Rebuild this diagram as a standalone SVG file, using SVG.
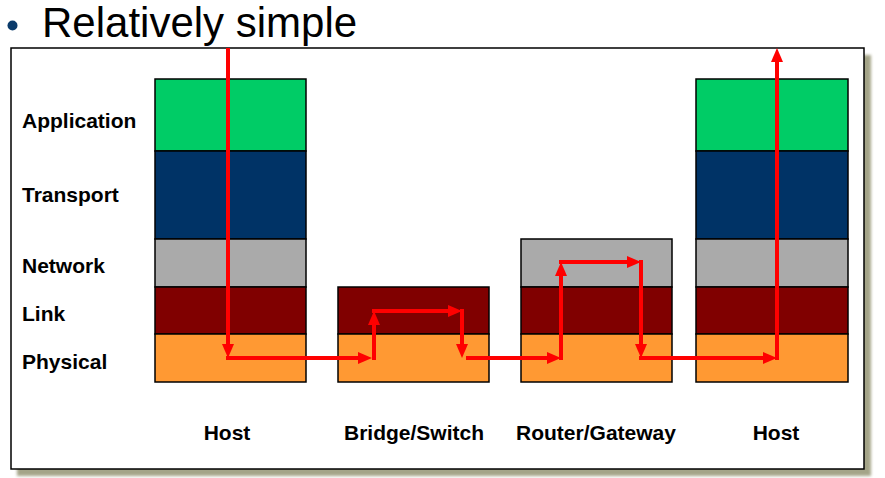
<svg xmlns="http://www.w3.org/2000/svg" width="885" height="478" viewBox="0 0 885 478">
<style>
.lbl{font-family:"Liberation Sans",Arial,sans-serif;font-weight:bold;font-size:21px;fill:#000}
.ttl{font-family:"Liberation Sans",Arial,sans-serif;font-size:42px;fill:#000}
.box{stroke:#000;stroke-width:1.5}
.app{fill:#00CC66}.tra{fill:#003366}.net{fill:#AAAAAA}.lnk{fill:#800000}.phy{fill:#FF9933}
.flow{stroke:#FF0000;stroke-width:4;fill:none;marker-end:url(#ah)}
</style>
<defs>
<filter id="blur" x="-5%" y="-5%" width="110%" height="110%"><feGaussianBlur stdDeviation="1.5"/></filter>
<marker id="ah" viewBox="0 0 14 12" refX="8" refY="6" markerWidth="14" markerHeight="12" markerUnits="userSpaceOnUse" orient="auto"><path d="M0,0 L14,6 L0,12 z" fill="#FF0000"/></marker>
</defs>
<rect width="885" height="478" fill="#fff"/>
<g id="title">
<circle cx="12.5" cy="25.5" r="5" fill="#0B3B6B"/>
<text class="ttl" x="42" y="37">Relatively simple</text>
</g>
<g id="frame">
<rect x="17" y="55" width="854" height="421" fill="#A4A488" filter="url(#blur)"/>
<rect x="11" y="48" width="853" height="421" fill="#fff" stroke="#000" stroke-width="1.5"/>
</g>
<g id="layer-labels">
<text class="lbl" x="22" y="128">Application</text>
<text class="lbl" x="22" y="202">Transport</text>
<text class="lbl" x="22" y="273">Network</text>
<text class="lbl" x="22" y="321">Link</text>
<text class="lbl" x="22" y="369">Physical</text>
</g>
<g id="host1">
<rect class="box app" x="155" y="79" width="151" height="72"/>
<rect class="box tra" x="155" y="151" width="151" height="88"/>
<rect class="box net" x="155" y="239" width="151" height="48"/>
<rect class="box lnk" x="155" y="287" width="151" height="47"/>
<rect class="box phy" x="155" y="334" width="151" height="48"/>
<text class="lbl" x="227" y="440" text-anchor="middle">Host</text>
</g>
<g id="bridge">
<rect class="box lnk" x="338" y="287" width="151" height="47"/>
<rect class="box phy" x="338" y="334" width="151" height="48"/>
<text class="lbl" x="414" y="440" text-anchor="middle">Bridge/Switch</text>
</g>
<g id="router">
<rect class="box net" x="521" y="239" width="151" height="48"/>
<rect class="box lnk" x="521" y="287" width="151" height="47"/>
<rect class="box phy" x="521" y="334" width="151" height="48"/>
<text class="lbl" x="596" y="440" text-anchor="middle">Router/Gateway</text>
</g>
<g id="host2">
<rect class="box app" x="696" y="79" width="152" height="72"/>
<rect class="box tra" x="696" y="151" width="152" height="88"/>
<rect class="box net" x="696" y="239" width="152" height="48"/>
<rect class="box lnk" x="696" y="287" width="152" height="47"/>
<rect class="box phy" x="696" y="334" width="152" height="48"/>
<text class="lbl" x="776" y="440" text-anchor="middle">Host</text>
</g>
<g id="connectors">
<line class="flow" x1="228" y1="48" x2="228" y2="352"/>
<line class="flow" x1="226" y1="358" x2="366" y2="358"/>
<line class="flow" x1="374" y1="360" x2="374" y2="317"/>
<line class="flow" x1="372" y1="311" x2="456" y2="311"/>
<line class="flow" x1="462" y1="309" x2="462" y2="352"/>
<line class="flow" x1="466" y1="358" x2="555" y2="358"/>
<line class="flow" x1="561" y1="360" x2="561" y2="268"/>
<line class="flow" x1="559" y1="262" x2="635" y2="262"/>
<line class="flow" x1="641" y1="260" x2="641" y2="352"/>
<line class="flow" x1="639" y1="358" x2="771" y2="358"/>
<line class="flow" x1="777" y1="360" x2="777" y2="54"/>
</g>
</svg>
